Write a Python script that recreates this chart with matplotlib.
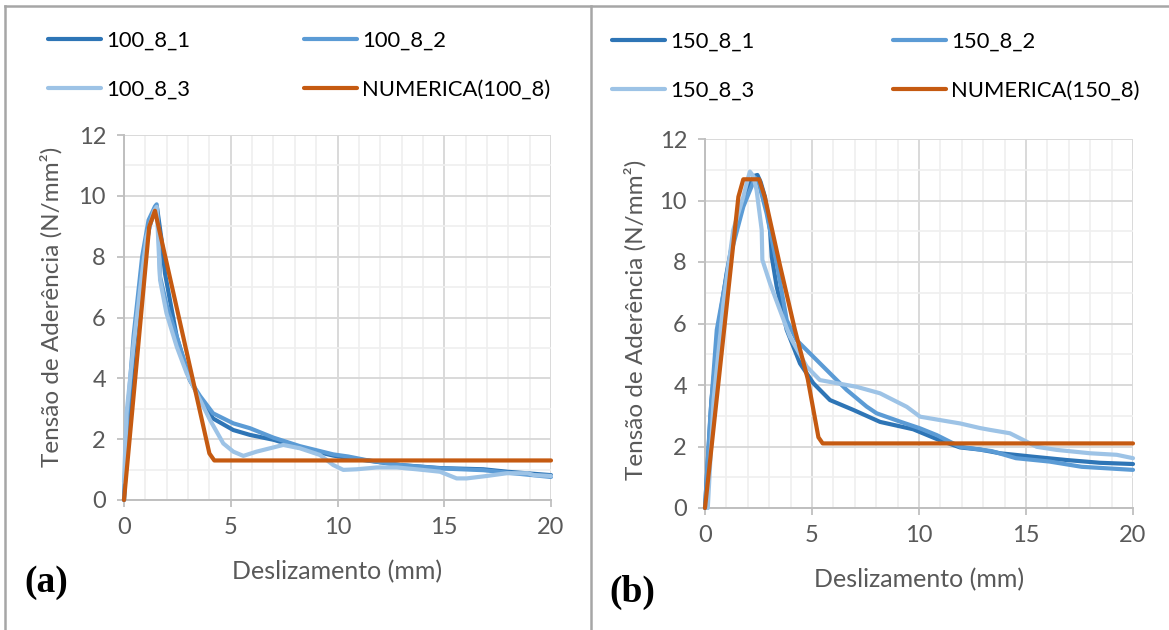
import matplotlib
matplotlib.use("Agg")
import matplotlib.pyplot as plt
from matplotlib.lines import Line2D
from matplotlib.ticker import MultipleLocator

# ---------------- data: panel (a) ----------------
a1_x = [0.0, 0.2, 0.5, 0.9, 1.2, 1.45, 1.55, 1.76, 1.92, 2.47, 3.09, 3.56, 4.17, 5.12, 5.9, 7.0,
        8.24, 9.8, 10.5, 11.37, 12.93, 14.8, 16.83, 17.93, 19.96, 20.0]
a1_y = [0.0, 2.5, 5.2, 7.8, 9.0, 9.55, 9.6, 8.55, 7.45, 5.37, 3.94, 3.35, 2.68, 2.3, 2.14, 1.98,
        1.72, 1.46, 1.38, 1.3, 1.15, 1.05, 1.01, 0.93, 0.82, 0.82]
a2_x = [0.0, 0.15, 0.45, 0.85, 1.15, 1.45, 1.53, 1.62, 1.69, 2.0, 2.47, 3.09, 3.56, 4.17, 5.12,
        5.9, 7.0, 8.24, 9.8, 10.5, 11.37, 12.93, 14.8, 16.83, 17.93, 19.96, 20.0]
a2_y = [0.0, 2.7, 5.4, 8.0, 9.2, 9.65, 9.72, 8.9, 7.34, 6.4, 5.37, 3.94, 3.42, 2.85, 2.52,
        2.36, 2.05, 1.77, 1.5, 1.43, 1.31, 1.15, 1.04, 0.98, 0.9, 0.76, 0.76]
a3_x = [0.0, 0.12, 0.44, 0.75, 1.06, 1.4, 1.53, 1.6, 1.69, 1.99, 2.47, 2.94, 3.41, 4.03, 4.65,
        5.12, 5.59, 6.21, 7.46, 8.24, 9.18, 9.8, 10.27, 10.9, 11.84, 12.78, 13.7, 14.8,
        15.58, 16.05, 16.99, 17.93, 18.9, 19.2, 20.0]
a3_y = [0.6, 2.86, 5.04, 6.9, 8.66, 9.5, 9.64, 8.6, 7.23, 6.14, 5.04, 4.16, 3.5, 2.63, 1.86,
        1.59, 1.45, 1.59, 1.81, 1.7, 1.48, 1.15, 0.99, 1.01, 1.07, 1.07, 1.01, 0.93,
        0.71, 0.71, 0.79, 0.88, 0.88, 0.82, 0.79]
an_x = [0.0, 1.18, 1.45, 4.0, 4.23, 20.0]
an_y = [0.0, 8.98, 9.51, 1.53, 1.3, 1.3]

# ---------------- data: panel (b) ----------------
b1_x = [0.0, 0.3, 0.7, 1.01, 1.48, 1.95, 2.3, 2.45, 2.6, 2.8, 3.04, 3.12, 3.35, 3.82, 4.44,
        5.06, 5.84, 6.93, 8.18, 9.73, 10.98, 11.92, 12.85, 13.79, 15.3, 16.9, 18.46, 20.0]
b1_y = [0.0, 3.5, 6.22, 7.63, 9.37, 10.34, 10.8, 10.83, 10.6, 10.12, 9.04, 8.17, 7.2, 5.79, 4.7,
        4.06, 3.51, 3.19, 2.8, 2.56, 2.2, 1.97, 1.9, 1.78, 1.67, 1.56, 1.47, 1.43]
b2_x = [0.0, 0.25, 0.55, 1.17, 1.79, 2.2, 2.34, 2.5, 2.88, 3.35, 3.82, 4.28, 5.06, 5.84, 6.62,
        7.55, 8.02, 9.11, 10.05, 10.83, 11.92, 13.4, 14.53, 16.1, 17.6, 20.0]
b2_y = [0.0, 3.0, 5.79, 8.17, 9.8, 10.5, 10.75, 10.6, 9.58, 7.96, 6.11, 5.46, 4.92, 4.38, 3.84,
        3.3, 3.08, 2.81, 2.59, 2.37, 1.99, 1.85, 1.62, 1.51, 1.34, 1.24]
b3_x = [0.13, 0.4, 0.86, 1.32, 1.79, 2.0, 2.1, 2.25, 2.41, 2.65, 2.68, 3.04, 3.5, 3.97, 4.75,
        5.37, 6.15, 7.09, 8.18, 9.43, 10.05, 10.98, 11.92, 12.85, 13.32, 14.25, 14.88,
        15.5, 16.43, 17.99, 19.24, 20.0]
b3_y = [0.0, 3.5, 6.66, 9.04, 10.12, 10.7, 10.94, 10.8, 10.34, 9.04, 8.07, 7.3, 6.44, 5.57, 4.6,
        4.16, 4.06, 3.94, 3.73, 3.29, 2.97, 2.86, 2.75, 2.6, 2.54, 2.43, 2.21,
        1.99, 1.89, 1.78, 1.73, 1.62]
bn_x = [0.0, 1.56, 1.79, 2.53, 2.8, 3.5, 4.2, 4.8, 5.3, 5.5, 20.0]
bn_y = [0.0, 10.12, 10.69, 10.69, 10.1, 7.9, 5.8, 4.2, 2.3, 2.1, 2.1]

labels_a = ["100_8_1", "100_8_2", "100_8_3", "NUMERICA(100_8)"]
labels_b = ["150_8_1", "150_8_2", "150_8_3", "NUMERICA(150_8)"]
x_label = "Deslizamento (mm)"
y_label = "Tensão de Aderência (N/mm²)"

colors = ["#2e75b6", "#5b9bd5", "#9dc3e6", "#c55a11"]

W, H, DPI = 1169, 630, 100
FONT = ["Lato", "DejaVu Sans"]
plt.rcParams["font.family"] = FONT

fig = plt.figure(figsize=(W / DPI, H / DPI), dpi=DPI)
fig.patch.set_facecolor("white")


def px_rect(x0, y0, x1, y1):
    """Rectangle given in pixel coords (y down) -> figure fraction."""
    return [x0 / W, 1 - y1 / H, (x1 - x0) / W, (y1 - y0) / H]


def style_axes(ax):
    ax.set_xlim(0, 20)
    ax.set_ylim(0, 12)
    ax.xaxis.set_major_locator(MultipleLocator(5))
    ax.xaxis.set_minor_locator(MultipleLocator(1))
    ax.yaxis.set_major_locator(MultipleLocator(2))
    ax.yaxis.set_minor_locator(MultipleLocator(1))
    ax.grid(which="major", color="#d9d9d9", lw=1.4)
    ax.grid(which="minor", color="#efefef", lw=1.2)
    ax.set_axisbelow(True)
    for s in ("top", "right"):
        ax.spines[s].set_visible(False)
    for s in ("left", "bottom"):
        ax.spines[s].set_color("#bfbfbf")
        ax.spines[s].set_linewidth(1.4)
    ax.tick_params(which="major", direction="out", length=5, width=1.3,
                   color="#bfbfbf", labelcolor="#595959", labelsize=17)
    ax.tick_params(axis="x", which="major", pad=7)
    ax.tick_params(axis="y", which="major", pad=8)
    ax.tick_params(which="minor", length=0)


def panel(rect, series, labels, xl_pos, yl_pos, tag, tag_pos, leg_cols):
    ax = fig.add_axes(px_rect(*rect))
    style_axes(ax)
    handles = []
    for (xs, ys), c, lab in zip(series, colors, labels):
        h, = ax.plot(xs, ys, color=c, lw=3.0, solid_capstyle="round",
                     solid_joinstyle="round", label=lab, clip_on=False, zorder=3)
        handles.append(h)
    ax.set_xlabel(x_label, fontsize=18, color="#595959")
    ax.set_ylabel(y_label, fontsize=17.5, color="#595959")
    ax.xaxis.set_label_coords(*xl_pos)
    ax.yaxis.set_label_coords(*yl_pos)
    fig.text(tag_pos[0] / W, 1 - tag_pos[1] / H, tag, fontsize=27, fontweight="bold",
             family="Liberation Serif", ha="center", va="center")
    for (cx, cy), idx in zip(leg_cols, ([0, 2], [1, 3])):
        fig.legend([handles[i] for i in idx], [labels[i] for i in idx],
                   loc="upper left", bbox_to_anchor=(cx / W, 1 - cy / H),
                   frameon=False, fontsize=15.8, handlelength=2.4, handletextpad=0.25,
                   labelspacing=1.3, borderpad=0, borderaxespad=0)
    return ax


panel((124, 135, 551, 500),
      [(a1_x, a1_y), (a2_x, a2_y), (a3_x, a3_y), (an_x, an_y)],
      labels_a, (0.5, -0.165), (-0.145, 0.53), "(a)", (46, 583),
      [(48, 31), (304, 31)])

panel((705, 139, 1133, 508),
      [(b1_x, b1_y), (b2_x, b2_y), (b3_x, b3_y), (bn_x, bn_y)],
      labels_b, (0.5, -0.163), (-0.136, 0.51), "(b)", (632, 592),
      [(612, 32), (893, 32)])

# outer frame lines
frame = "#a6a6a6"
for xs, ys in (((5, W), (6, 6)), ((5, 5), (6, H)), ((591, 591), (6, H))):
    fig.add_artist(Line2D([x / W for x in xs], [1 - y / H for y in ys],
                          transform=fig.transFigure, color=frame, lw=1.8))

fig.savefig("out.png", dpi=DPI)
